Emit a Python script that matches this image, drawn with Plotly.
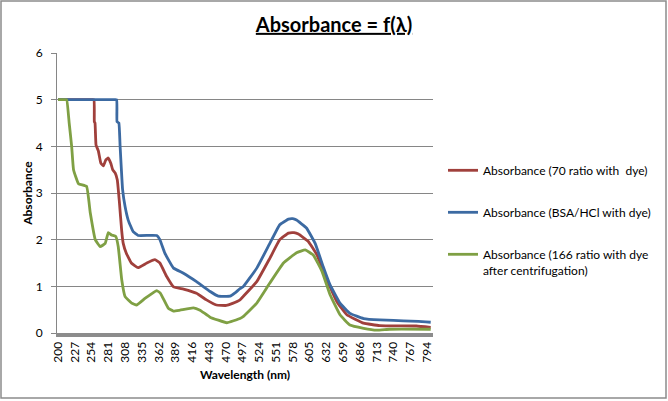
import plotly.graph_objects as go

# absorbance spectra
red_wl = [200, 254, 258, 258.5, 259.6, 261.2, 265, 269, 273, 277, 281, 285, 288, 292, 295.5, 299,
          302.5, 305, 310, 318, 329, 343, 356, 364, 375, 386, 402, 423, 439, 455, 471, 480,
          493, 498, 520, 541, 557, 571, 580, 587, 603, 617, 633, 649, 665, 692, 718, 777, 800]
red_abs = [5, 5, 5, 4.53, 4.5, 4.03, 3.9, 3.64, 3.58, 3.71, 3.75, 3.64, 3.5, 3.43, 3.28, 2.78,
           2.2, 1.92, 1.71, 1.5, 1.4, 1.5, 1.57, 1.5, 1.21, 0.99, 0.94, 0.85, 0.71, 0.6, 0.59, 0.63,
           0.71, 0.78, 1.1, 1.6, 2.0, 2.14, 2.15, 2.12, 1.96, 1.67, 1.14, 0.67, 0.39, 0.21, 0.16, 0.15, 0.12]

blue_wl = [200, 290, 294.5, 295, 298, 300, 304, 308, 313, 321, 329, 359, 364, 372, 386, 402, 423,
           445, 458, 477, 485, 493, 498, 520, 541, 557, 571, 578, 584, 600, 614, 627, 638, 654,
           670, 692, 718, 740, 756, 780, 800]
blue_abs = [5, 5, 5, 4.53, 4.5, 4.0, 3.07, 2.71, 2.42, 2.17, 2.09, 2.09, 2.0, 1.71, 1.39, 1.28, 1.1,
            0.89, 0.79, 0.79, 0.86, 0.95, 0.99, 1.39, 1.92, 2.32, 2.44, 2.45, 2.42, 2.25, 1.92, 1.42,
            1.03, 0.64, 0.42, 0.31, 0.28, 0.27, 0.26, 0.25, 0.23]

green_wl = [200, 210, 214, 218, 222, 225, 233, 246, 252, 260, 268, 276, 281, 286, 293, 297, 302.6,
            308, 318.6, 326.7, 340, 359, 365, 377.6, 385.8, 396.5, 418, 428.7, 444.8, 471.6, 493,
            498, 520, 541, 563, 584, 598, 611, 625, 638, 654, 670, 692, 713, 734, 800]
green_abs = [5, 5, 5, 4.5, 4.0, 3.5, 3.2, 3.14, 2.57, 2.0, 1.85, 1.92, 2.15, 2.1, 2.07, 1.85, 1.14,
             0.78, 0.64, 0.6, 0.74, 0.91, 0.85, 0.53, 0.47, 0.49, 0.54, 0.49, 0.34, 0.22, 0.31,
             0.35, 0.64, 1.07, 1.5, 1.72, 1.78, 1.67, 1.32, 0.82, 0.39, 0.17, 0.1, 0.06, 0.08, 0.08]

x_ticks = [200, 227, 254, 281, 308, 335, 362, 389, 416, 443, 470, 497, 524, 551, 578,
           605, 632, 659, 686, 713, 740, 767, 794]
y_ticks = [0, 1, 2, 3, 4, 5, 6]

FONT = "Lato, Open Sans, sans-serif"

series = [
    ("Absorbance (70 ratio with  dye)", red_wl, red_abs, "#A0403C"),
    ("Absorbance (BSA/HCl with dye)", blue_wl, blue_abs, "#3C6AA2"),
    ("Absorbance (166 ratio with dye<br>after centrifugation)", green_wl, green_abs, "#7FA044"),
]

fig = go.Figure()
for i, (name, wl, ab, col) in enumerate(series):
    fig.add_trace(go.Scatter(x=wl, y=ab, name=name, mode="lines",
                             line=dict(color=col, width=2.8, shape="spline", smoothing=0.3),
                             legendgroup=str(i)))

fig.update_layout(
    width=668, height=401,
    margin=dict(l=57, r=235, t=53, b=68, autoexpand=False),
    paper_bgcolor="white", plot_bgcolor="white",
    font=dict(family=FONT, size=12, color="black"),
    title=dict(text="<b><u>Absorbance = f(λ)</u></b>", x=0.5, xref="container",
               xanchor="center", y=0.938, yanchor="middle",
               font=dict(size=20, family=FONT)),
    showlegend=True,
    legend=dict(xref="container", yref="container", x=443 / 668, y=1 - 156 / 401,
                xanchor="left", yanchor="top",
                tracegroupgap=23, valign="top", font=dict(size=12),
                bgcolor="rgba(0,0,0,0)"),
)

fig.update_xaxes(range=[198.4, 803.7], tickvals=x_ticks, ticktext=[str(t) for t in x_ticks],
                 tickangle=-90, tickfont=dict(size=12), showgrid=False, zeroline=False,
                 showline=True, linecolor="#8C8C8C", linewidth=4, ticks="",
                 title=dict(text="<b>Wavelength (nm)</b>", font=dict(size=12), standoff=10))
fig.update_yaxes(range=[0, 6], tickvals=y_ticks, showgrid=True, gridcolor="#868686",
                 gridwidth=1, zeroline=False, showline=True, linecolor="#868686", linewidth=1,
                 ticks="outside", ticklen=5, tickcolor="#868686", tickfont=dict(size=12),
                 ticklabelstandoff=6,
                 title=dict(text="<b>Absorbance</b>", font=dict(size=12), standoff=0))

# outer chart border
fig.add_shape(type="rect", xref="paper", yref="paper",
              x0=-56 / 376, x1=(666 - 57) / 376, y0=(333 - 398) / 280, y1=(333 - 1) / 280,
              line=dict(color="#8C8C8C", width=1.5), fillcolor="rgba(0,0,0,0)", layer="below")

fig.write_html("out.html", config={"displayModeBar": False},
               post_script="document.body.style.margin = '0';")
